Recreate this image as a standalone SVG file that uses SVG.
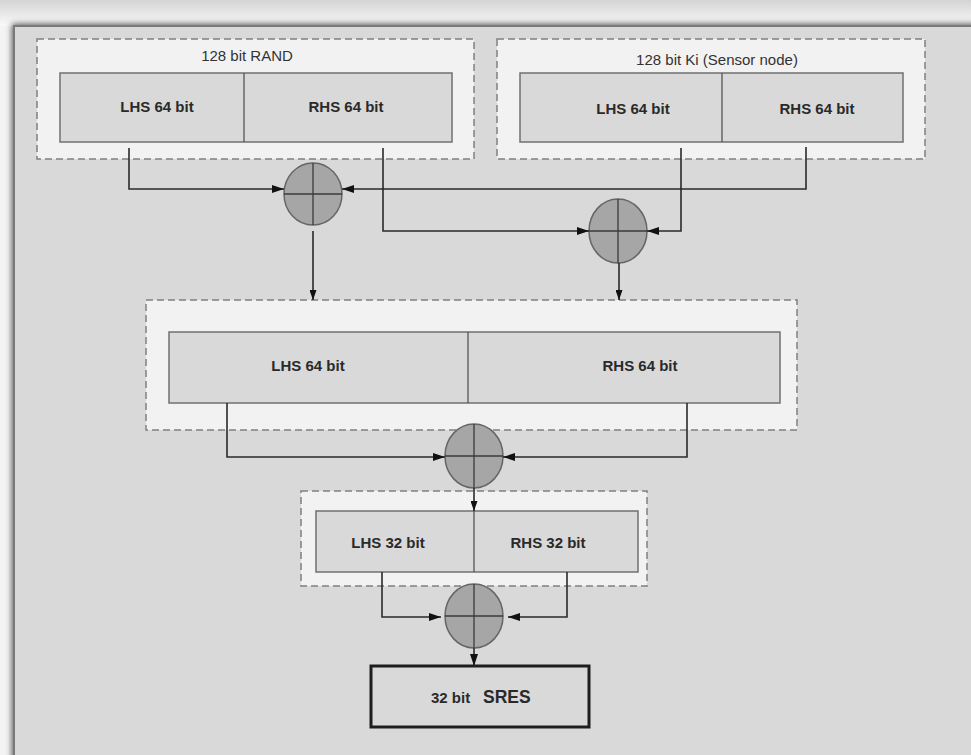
<svg xmlns="http://www.w3.org/2000/svg" width="971" height="755" viewBox="0 0 971 755">
  <defs>
    <linearGradient id="topfade" x1="0" y1="0" x2="0" y2="1">
      <stop offset="0" stop-color="#d4d4d4"/>
      <stop offset="1" stop-color="#fafafa"/>
    </linearGradient>
    <filter id="shadow" x="-5%" y="-5%" width="110%" height="110%">
      <feGaussianBlur stdDeviation="3"/>
    </filter>
    <marker id="arr" markerUnits="userSpaceOnUse" markerWidth="12" markerHeight="8" refX="12" refY="4" orient="auto">
      <path d="M0,0 L12,4 L0,8 Z" fill="#111"/>
    </marker>
    <marker id="arrs" markerUnits="userSpaceOnUse" markerWidth="10" markerHeight="7" refX="10" refY="3.5" orient="auto">
      <path d="M0,0 L10,3.5 L0,7 Z" fill="#111"/>
    </marker>
  </defs>
  <style>
    .dash { fill: #f2f2f2; stroke: #808080; stroke-width: 1.5; stroke-dasharray: 7 4; }
    .cell { fill: #d9d9d9; stroke: #707070; stroke-width: 1.5; }
    .div { stroke: #555; stroke-width: 1.3; }
    .xor { fill: #a6a6a6; stroke: #666; stroke-width: 1.5; }
    .cross { stroke: #3a3a3a; stroke-width: 1.3; }
    .conn { fill: none; stroke: #2a2a2a; stroke-width: 1.6; }
    .t { font-family: "Liberation Sans", Arial, sans-serif; font-size: 15px; fill: #333; text-anchor: middle; }
    .b { font-family: "Liberation Sans", Arial, sans-serif; font-size: 15px; font-weight: bold; fill: #2a2a2a; text-anchor: middle; }
  </style>

  <!-- background frame -->
  <rect x="0" y="0" width="971" height="755" fill="#f4f4f4"/>
  <rect x="0" y="0" width="971" height="26" fill="url(#topfade)"/>
  <rect x="12" y="24" width="970" height="740" fill="#555" filter="url(#shadow)"/>
  <rect x="14" y="26" width="965" height="740" fill="#d9d9d9" stroke="#7a7a7a" stroke-width="2"/>

  <!-- 128 bit RAND -->
  <g id="rand">
    <rect class="dash" x="37" y="39" width="437" height="120"/>
    <text class="t" x="247" y="61">128 bit RAND</text>
    <rect class="cell" x="60" y="73" width="392" height="69"/>
    <line class="div" x1="244" y1="73" x2="244" y2="142"/>
    <text class="b" x="157" y="112">LHS 64 bit</text>
    <text class="b" x="346" y="112">RHS 64 bit</text>
  </g>

  <!-- 128 bit Ki -->
  <g id="ki">
    <rect class="dash" x="497" y="39" width="428" height="120"/>
    <text class="t" x="717" y="65">128 bit Ki (Sensor node)</text>
    <rect class="cell" x="520" y="73" width="383" height="69"/>
    <line class="div" x1="722" y1="73" x2="722" y2="142"/>
    <text class="b" x="633" y="114">LHS 64 bit</text>
    <text class="b" x="817" y="114">RHS 64 bit</text>
  </g>

  <!-- middle 128 bit -->
  <g id="mid">
    <rect class="dash" x="146" y="300" width="651" height="130"/>
    <rect class="cell" x="169" y="332" width="611" height="71"/>
    <line class="div" x1="468" y1="332" x2="468" y2="403"/>
    <text class="b" x="308" y="371">LHS 64 bit</text>
    <text class="b" x="640" y="371">RHS 64 bit</text>
  </g>

  <!-- 64 bit -->
  <g id="half">
    <rect class="dash" x="301" y="491" width="346" height="95"/>
    <rect class="cell" x="316" y="511" width="322" height="61"/>
    <line class="div" x1="474" y1="511" x2="474" y2="572"/>
    <text class="b" x="388" y="548">LHS 32 bit</text>
    <text class="b" x="548" y="548">RHS 32 bit</text>
  </g>

  <!-- SRES -->
  <g id="sres">
    <rect x="371" y="666" width="218" height="61" fill="#d9d9d9" stroke="#1e1e1e" stroke-width="3"/>
    <text x="431" y="703" font-family="Liberation Sans, Arial, sans-serif" font-size="15" font-weight="bold" fill="#2a2a2a">32 bit</text>
    <text x="483" y="703" font-family="Liberation Sans, Arial, sans-serif" font-size="17.5" font-weight="bold" fill="#2a2a2a">SRES</text>
  </g>

  <!-- XOR nodes -->
  <g id="xor1">
    <ellipse class="xor" cx="313" cy="194" rx="29" ry="31"/>
    <line class="cross" x1="313" y1="163" x2="313" y2="225"/>
    <line class="cross" x1="284" y1="194" x2="342" y2="194"/>
  </g>
  <g id="xor2">
    <ellipse class="xor" cx="618" cy="231" rx="29" ry="32"/>
    <line class="cross" x1="618" y1="199" x2="618" y2="263"/>
    <line class="cross" x1="589" y1="231" x2="647" y2="231"/>
  </g>
  <g id="xor3">
    <ellipse class="xor" cx="474" cy="456" rx="29" ry="32"/>
    <line class="cross" x1="474" y1="424" x2="474" y2="488"/>
    <line class="cross" x1="445" y1="456" x2="503" y2="456"/>
  </g>
  <g id="xor4">
    <ellipse class="xor" cx="474" cy="616" rx="29" ry="32"/>
    <line class="cross" x1="474" y1="584" x2="474" y2="648"/>
    <line class="cross" x1="445" y1="616" x2="503" y2="616"/>
  </g>

  <!-- connectors -->
  <g id="connectors">
    <path class="conn" d="M129,148 V189 H284" marker-end="url(#arr)"/>
    <path class="conn" d="M806,147 V189 H342" marker-end="url(#arr)"/>
    <path class="conn" d="M383,148 V231 H589" marker-end="url(#arr)"/>
    <path class="conn" d="M681,148 V231 H647" marker-end="url(#arr)"/>
    <path class="conn" d="M313,231 V300" marker-end="url(#arrs)"/>
    <path class="conn" d="M619,263 V300" marker-end="url(#arrs)"/>
    <path class="conn" d="M227,403 V457 H445" marker-end="url(#arr)"/>
    <path class="conn" d="M687,403 V457 H503" marker-end="url(#arr)"/>
    <path class="conn" d="M474,488 V511" marker-end="url(#arrs)"/>
    <path class="conn" d="M382,572 V617 H441" marker-end="url(#arr)"/>
    <path class="conn" d="M567,572 V617 H508" marker-end="url(#arr)"/>
    <path class="conn" d="M474,648 V666" marker-end="url(#arr)"/>
  </g>
</svg>
